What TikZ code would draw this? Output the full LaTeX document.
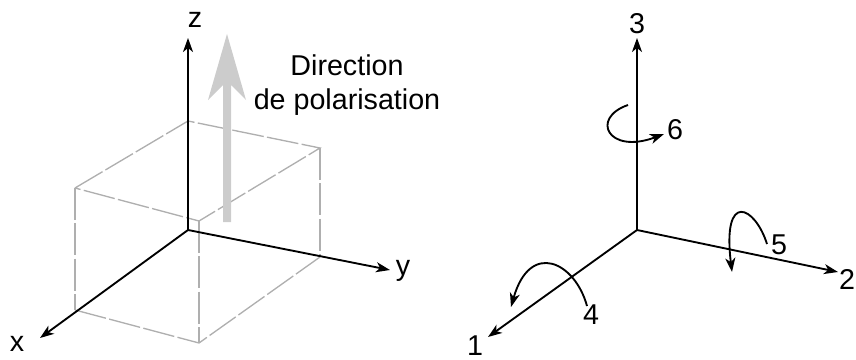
\documentclass[tikz,border=0pt]{standalone}
\usepackage{fontspec}
\setmainfont{Liberation Sans}
\usepackage{tikz}
\usetikzlibrary{arrows.meta,positioning,calc}
\definecolor{boxgray}{RGB}{175,175,175}
\definecolor{polgray}{RGB}{204,204,204}
\tikzset{
  axis/.style={draw=black,line width=1.4pt,-{Stealth[length=10.5pt,width=7.5pt,inset=3pt]}},
  rotarrow/.style={draw=black,line width=1.4pt,-{Stealth[length=10.5pt,width=7.5pt,inset=3pt]}},
  boxedge/.style={draw=boxgray,line width=1pt,dash pattern=on 24pt off 2.5pt},
  lbl/.style={font=\fontsize{21.5}{25}\selectfont,inner sep=0pt}
}
\begin{document}
\begin{tikzpicture}[x=0.75pt,y=-0.75pt]
\useasboundingbox (0,0) rectangle (856,360);
% left trihedron
\coordinate (o) at (188,230);
\coordinate (xtip) at (40,338);
\coordinate (ytip) at (390,270);
\coordinate (ztip) at (188,38);
% box
\coordinate (tb) at (188,121);
\coordinate (tr) at (320,148);
\coordinate (tl) at (75,188);
\coordinate (tf) at (199,221);
\coordinate (bl) at (75,310);
\coordinate (bf) at (199,343);
\coordinate (br) at (320,257);
\draw[boxedge] (tl) -- (tb) -- (tr) -- (tf) -- cycle;
\draw[boxedge] (tl) -- (bl);
\draw[boxedge] (tf) -- (bf);
\draw[boxedge] (tr) -- (br);
\draw[boxedge] (bl) -- (bf) -- (br);
% polarisation arrow
\fill[polgray] (223,222) -- (223,85) -- (208,100) -- (227,34) -- (246,100) -- (231,85) -- (231,222) -- cycle;
\draw[axis] (o) -- (xtip);
\draw[axis] (o) -- (ytip);
\draw[axis] (o) -- (ztip);
\node[lbl] (xlabel) at (17,344) {x};
\node[lbl] (ylabel) at (403,271) {y};
\node[lbl] (zlabel) at (195,20) {z};
\node[lbl] (pola) at (347,65) {Direction};
\node[lbl] (polb) at (347,102) {de polarisation};
% right trihedron
\coordinate (oo) at (637,230);
\coordinate (one) at (488,337);
\coordinate (two) at (838,272);
\coordinate (three) at (637,38);
\draw[axis] (oo) -- (one);
\draw[axis] (oo) -- (two);
\draw[axis] (oo) -- (three);
\node[lbl] (n1) at (475,346) {1};
\node[lbl] (n2) at (847,279) {2};
\node[lbl] (n3) at (637,24) {3};
\node[lbl] (n4) at (591,315) {4};
\node[lbl] (n5) at (779,245) {5};
\node[lbl] (n6) at (675,130) {6};
% rotations
\coordinate (s4) at (587,306);
\coordinate (e4) at (511,307);
\coordinate (s5) at (767,244);
\coordinate (e5) at (732,272);
\coordinate (s6) at (628,105);
\coordinate (e6) at (664,134);
\draw[rotarrow] (s4) .. controls (575,262) and (530,240) .. (e4);
\draw[rotarrow] (s5) .. controls (755,206) and (722,190) .. (e5);
\draw[rotarrow] (s6) .. controls (590,118) and (608,155) .. (e6);
\end{tikzpicture}
\end{document}
